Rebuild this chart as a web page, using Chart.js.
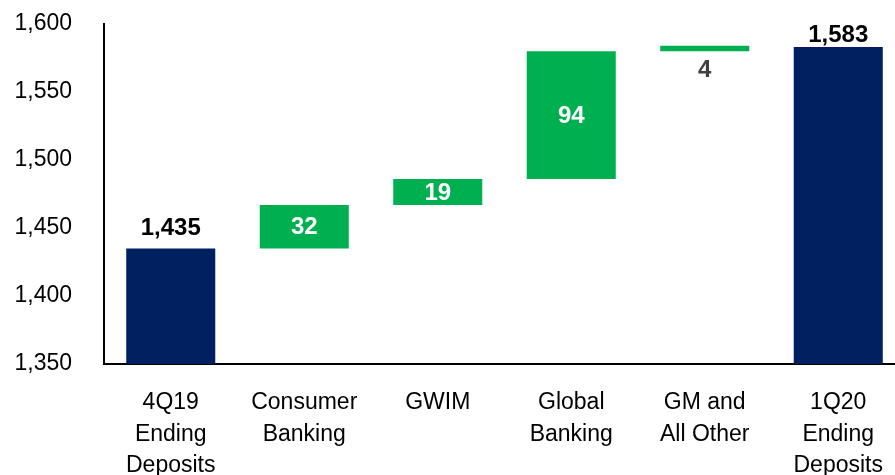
<!DOCTYPE html>
<html><head><meta charset="utf-8">
<script src="https://cdn.jsdelivr.net/npm/chart.js@4.4.0/dist/chart.umd.min.js"></script>
<style>html,body{margin:0;padding:0;overflow:hidden;background:#fff}#wrap{width:905px;height:475px;position:relative}</style>
</head><body><div id="wrap"><canvas id="c"></canvas></div>
<script>
const categories = [['4Q19','Ending','Deposits'],['Consumer','Banking'],['GWIM'],['Global','Banking'],['GM and','All Other'],['1Q20','Ending','Deposits']];
const startingDeposits = 1435;
const changes = [32, 19, 94, 4]; // Consumer Banking, GWIM, Global Banking, GM and All Other
const endingDeposits = 1583;
const yMin = 1350, yMax = 1600, yStep = 50;

const NAVY = '#002060', GREEN = '#00B050';
const FONT = '"Liberation Sans", Arial, sans-serif';

// build floating bars
const floating = [[yMin, startingDeposits]];
const colors = [NAVY];
const kinds = ['total'];
const valueLabels = [startingDeposits.toLocaleString('en-US')];
let run = startingDeposits;
changes.forEach(c => {
  floating.push([run, run + c]);
  run += c;
  colors.push(GREEN);
  kinds.push('change');
  valueLabels.push(String(c));
});
floating.push([yMin, endingDeposits]);
colors.push(NAVY);
kinds.push('total');
valueLabels.push(endingDeposits.toLocaleString('en-US'));

const labelPlugin = {
  id: 'barLabels',
  afterDatasetsDraw(chart) {
    const ctx = chart.ctx;
    const meta = chart.getDatasetMeta(0);
    meta.data.forEach((bar, i) => {
      const txt = valueLabels[i];
      const top = Math.min(bar.y, bar.base), bottom = Math.max(bar.y, bar.base);
      ctx.save();
      ctx.font = 'bold 24px ' + FONT;
      ctx.textAlign = 'center';
      if (kinds[i] === 'total') {
        ctx.fillStyle = '#000';
        ctx.textBaseline = 'alphabetic';
        const yb = Math.max(top - 13, chart.chartArea.top + 18);
        ctx.fillText(txt, bar.x, yb);
      } else if (bottom - top >= 24) {
        ctx.fillStyle = '#fff';
        ctx.textBaseline = 'middle';
        ctx.fillText(txt, bar.x, (top + bottom) / 2 + 1);
      } else {
        ctx.fillStyle = '#404040';
        ctx.textBaseline = 'top';
        ctx.fillText(txt, bar.x, bottom + 7);
      }
      ctx.restore();
    });
  }
};

new Chart(document.getElementById('c'), {
  type: 'bar',
  data: {
    labels: categories,
    datasets: [{
      data: floating,
      backgroundColor: colors,
      borderWidth: 0,
      categoryPercentage: 1,
      barPercentage: 0.667
    }]
  },
  options: {
    responsive: true,
    maintainAspectRatio: false,
    animation: false,
    layout: { padding: { top: 24, left: 0, right: 0, bottom: 0 } },
    plugins: { legend: { display: false }, tooltip: { enabled: false } },
    scales: {
      x: {
        grid: { display: false, drawTicks: false },
        border: { display: true, color: '#000', width: 2 },
        ticks: { color: '#000', padding: 23, maxRotation: 0, autoSkip: false,
                 font: { family: FONT, size: 23, lineHeight: 1.37 } },
        afterFit: s => { s.height = 111; s.paddingLeft = 0; s.paddingRight = 0; }
      },
      y: {
        min: yMin, max: yMax,
        grid: { display: false, drawTicks: false },
        border: { display: true, color: '#000', width: 2 },
        ticks: { stepSize: yStep, color: '#000', padding: 32,
                 callback: v => Number(v).toLocaleString('en-US'),
                 font: { family: FONT, size: 23 } },
        afterFit: s => { s.width = 104; s.paddingTop = 0; s.paddingBottom = 0; }
      }
    }
  },
  plugins: [labelPlugin]
});
</script>
</body></html>
